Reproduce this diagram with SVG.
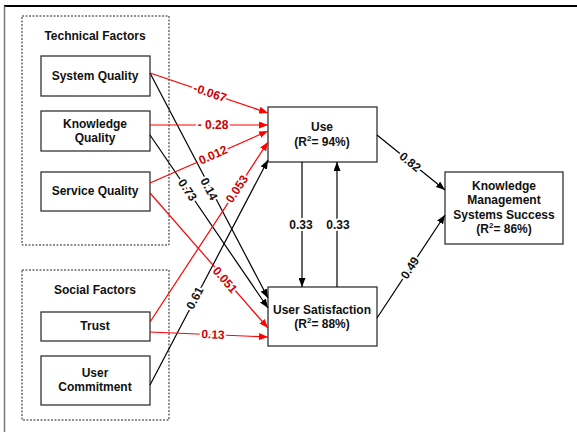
<svg xmlns="http://www.w3.org/2000/svg" width="577" height="432" viewBox="0 0 577 432">
<defs>
<style>
text{font-family:"Liberation Sans",Arial,sans-serif;font-weight:bold;font-size:12px;text-anchor:middle;fill:#111}
.box{fill:#fff;stroke:#333;stroke-width:1.3}
.grp{fill:none;stroke:#222;stroke-width:1;stroke-dasharray:2 1.5}
.k{stroke:#000;stroke-width:1.2;fill:none}
.r{stroke:#ff0000;stroke-width:1.2;fill:none}
.lk{fill:#111;stroke:#fff;stroke-width:4;paint-order:stroke;stroke-linejoin:round}
.lr{fill:#cc0000;stroke:#fff;stroke-width:4;paint-order:stroke;stroke-linejoin:round}
</style>
<marker id="ak" markerUnits="userSpaceOnUse" markerWidth="9" markerHeight="7" refX="9" refY="3.5" orient="auto"><path d="M0,0 L9,3.5 L0,7 z" fill="#000"/></marker>
<marker id="ar" markerUnits="userSpaceOnUse" markerWidth="9" markerHeight="7" refX="9" refY="3.5" orient="auto"><path d="M0,0 L9,3.5 L0,7 z" fill="#ff0000"/></marker>
</defs>
<rect width="577" height="432" fill="#fff"/>
<line x1="4" y1="6" x2="577" y2="6" stroke="#000" stroke-width="2"/>
<line x1="4.5" y1="6" x2="4.5" y2="432" stroke="#777" stroke-width="1.5"/>

<g id="technical-factors">
<rect class="grp" x="22" y="16" width="147" height="229"/>
<text x="95" y="40">Technical Factors</text>
</g>
<g id="social-factors">
<rect class="grp" x="22" y="270" width="147" height="150"/>
<text x="95" y="294">Social Factors</text>
</g>
<g id="system-quality"><rect class="box" x="41" y="56" width="109" height="40"/><text x="95" y="80">System Quality</text></g>
<g id="knowledge-quality"><rect class="box" x="41" y="111" width="109" height="40"/><text x="95" y="128">Knowledge</text><text x="95" y="142">Quality</text></g>
<g id="service-quality"><rect class="box" x="41" y="172" width="109" height="39"/><text x="95" y="195">Service Quality</text></g>
<g id="trust"><rect class="box" x="41" y="312" width="109" height="29"/><text x="95" y="330">Trust</text></g>
<g id="user-commitment"><rect class="box" x="41" y="356" width="109" height="49"/><text x="95" y="377">User</text><text x="95" y="391">Commitment</text></g>
<g id="use"><rect class="box" x="268" y="107" width="109" height="55"/><text x="322" y="131">Use</text><text x="322" y="146">(R<tspan dy="-5" font-size="8">2</tspan><tspan dy="5">= 94%)</tspan></text></g>
<g id="user-satisfaction"><rect class="box" x="268" y="287" width="109" height="59"/><text x="322" y="314">User Satisfaction</text><text x="322" y="328">(R<tspan dy="-5" font-size="8">2</tspan><tspan dy="5">= 88%)</tspan></text></g>
<g id="kms-success"><rect class="box" x="445" y="172" width="118" height="72"/><text x="504" y="190">Knowledge</text><text x="504" y="204">Management</text><text x="504" y="219">Systems Success</text><text x="504" y="233">(R<tspan dy="-5" font-size="8">2</tspan><tspan dy="5">= 86%)</tspan></text></g>

<g id="connectors">
<line class="k" x1="150" y1="73" x2="268" y2="298" marker-end="url(#ak)"/>
<line class="k" x1="150" y1="135" x2="268" y2="308" marker-end="url(#ak)"/>
<line class="k" x1="150" y1="385" x2="268" y2="160" marker-end="url(#ak)"/>
<line class="r" x1="150" y1="73" x2="268" y2="113" marker-end="url(#ar)"/>
<line class="r" x1="150" y1="125" x2="268" y2="125" marker-end="url(#ar)"/>
<line class="r" x1="150" y1="183" x2="268" y2="131" marker-end="url(#ar)"/>
<line class="r" x1="150" y1="322" x2="268" y2="142" marker-end="url(#ar)"/>
<line class="r" x1="150" y1="193" x2="268" y2="328" marker-end="url(#ar)"/>
<line class="r" x1="150" y1="332" x2="268" y2="337" marker-end="url(#ar)"/>
<line class="k" x1="377" y1="135" x2="445" y2="190" marker-end="url(#ak)"/>
<line class="k" x1="377" y1="318" x2="445" y2="215" marker-end="url(#ak)"/>
<line class="k" x1="302" y1="162" x2="302" y2="287" marker-end="url(#ak)"/>
<line class="k" x1="337" y1="287" x2="337" y2="162" marker-end="url(#ak)"/>

<text class="lr" transform="translate(210,93) rotate(18.7)" dy="4">-0.067</text>
<text class="lr" x="213" y="129">- 0.28</text>
<text class="lr" transform="translate(213,155) rotate(-23.8)" dy="4">0.012</text>
<text class="lr" transform="translate(237,189) rotate(-56.7)" dy="4">0.053</text>
<text class="lk" transform="translate(209,189) rotate(62.3)" dy="4">0.14</text>
<text class="lk" transform="translate(187.5,190) rotate(55.7)" dy="4">0.73</text>
<text class="lr" transform="translate(225,280) rotate(48.8)" dy="4">0.051</text>
<text class="lr" transform="translate(213,334.5) rotate(2.4)" dy="4">0.13</text>
<text class="lk" transform="translate(195,298) rotate(-62.3)" dy="4">0.61</text>
<text class="lk" transform="translate(410,162) rotate(39)" dy="4">0.82</text>
<text class="lk" transform="translate(410,268) rotate(-56.6)" dy="4">0.49</text>
<text class="lk" x="301" y="229">0.33</text>
<text class="lk" x="338" y="229">0.33</text>
</g>
</svg>
